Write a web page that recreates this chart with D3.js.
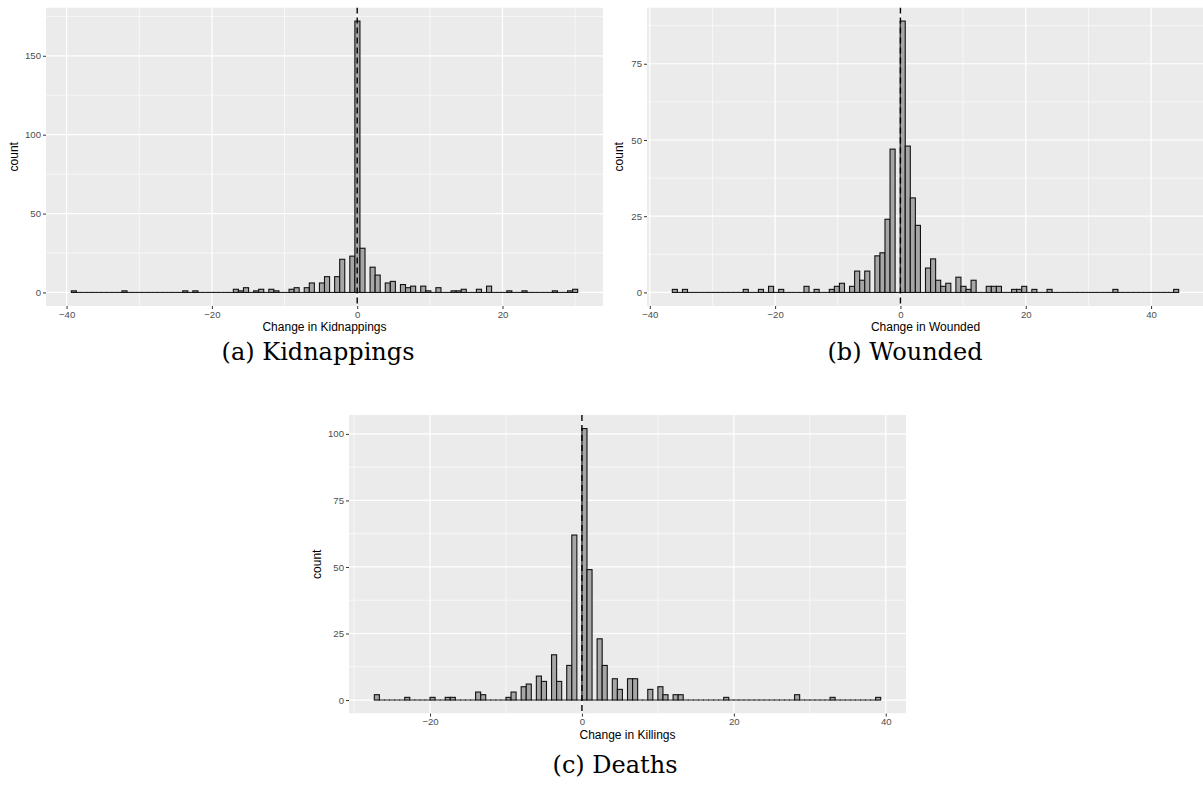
<!DOCTYPE html>
<html>
<head>
<meta charset="utf-8">
<script src="https://cdn.jsdelivr.net/npm/d3@7"></script>
<style>
  body { margin: 0; background: #fff; }
  .tick text { font-family: "Liberation Sans", Arial, sans-serif; font-size: 9.6px; fill: #4d4d4d; }
  .tick line { stroke: #333; }
  .axis-title { font-family: "Liberation Sans", Arial, sans-serif; font-size: 12px; fill: #000; }
  .caption { font-family: "DejaVu Serif", serif; font-size: 24px; fill: #000; }
</style>
</head>
<body>
<svg id="chart"></svg>
<script>
const kidValues = [-39, -32, -24, -22, -17, -16, -15, -14, -13, -12, -11, -9, -8, -7, -6, -5, -4, -3, -2, -1, 0,
    1, 2, 3, 4, 5, 6, 7, 8, 9, 10, 11, 13, 14, 15, 17, 18, 21, 23, 27, 29, 30];
const kidCounts = [1, 1, 1, 1, 2, 1, 3, 1, 2, 2, 1, 2, 3, 3, 6, 6, 10, 10, 21, 23, 172,
    28, 16, 11, 6, 7, 5, 3, 4, 4, 1, 3, 1, 1, 2, 2, 4, 1, 1, 1, 1, 2];

const woundValues = [-36, -34, -25, -22, -21, -19, -15, -13, -11, -10, -9, -8, -7, -6, -5, -4, -3, -2, -1, 0,
    1, 2, 3, 4, 5, 6, 7, 8, 9, 10, 11, 12, 14, 15, 16, 18, 19, 20, 21, 24, 34, 44];
const woundCounts = [1, 1, 1, 1, 2, 1, 2, 1, 1, 2, 3, 2, 7, 4, 7, 12, 13, 24, 47, 89,
    48, 31, 22, 8, 11, 4, 2, 3, 5, 2, 1, 4, 2, 2, 2, 1, 1, 2, 1, 1, 1, 1];

const killValues = [-27, -23, -20, -18, -17, -14, -13, -10, -9, -8, -7, -6, -5, -4, -3, -2, -1, 0,
    1, 2, 3, 4, 5, 6, 7, 9, 10, 11, 12, 13, 19, 28, 33, 39];
const killCounts = [2, 1, 1, 1, 1, 3, 2, 1, 3, 5, 6, 9, 7, 17, 7, 13, 62, 102,
    49, 23, 13, 8, 4, 8, 8, 4, 5, 2, 2, 2, 1, 2, 1, 1];

const kidXTicks = [-40, -20, 0, 20];
const kidYTicks = [0, 50, 100, 150];
const woundXTicks = [-40, -20, 0, 20, 40];
const woundYTicks = [0, 25, 50, 75];
const killXTicks = [-20, 0, 20, 40];
const killYTicks = [0, 25, 50, 75, 100];

const W = 1203, H = 800;
const svg = d3.select('#chart')
    .attr('width', W)
    .attr('height', H);

// midpoints between major breaks, like ggplot's minor grid
function minorBreaks(ticks, domain) {
    const step = ticks[1] - ticks[0];
    const out = [];
    for (let t = ticks[0] - step / 2; t <= domain[1]; t += step) {
        if (t >= domain[0]) out.push(t);
    }
    return out;
}

function drawHistogram(opts) {
    const values = opts.values, counts = opts.counts;
    const lo = d3.min(values), hi = d3.max(values);
    const nBins = 100;
    const bw = (hi - lo) / (nBins - 1);

    const bins = d3.range(nBins).map(i => ({ center: lo + i * bw, count: 0 }));
    values.forEach((v, i) => {
        bins[Math.round((v - lo) / bw)].count += counts[i];
    });

    const span = hi - lo + bw;
    const xDomain = [lo - bw / 2 - span * 0.05, hi + bw / 2 + span * 0.05];
    const yMax = d3.max(counts);
    const yDomain = [-yMax * 0.05, yMax * 1.05];

    const x = d3.scaleLinear().domain(xDomain).range([opts.left, opts.right]);
    const y = d3.scaleLinear().domain(yDomain).range([opts.bottom, opts.top]);

    const clipId = 'clip-' + opts.id;
    svg.append('clipPath')
        .attr('id', clipId)
        .append('rect')
        .attr('x', opts.left)
        .attr('y', opts.top)
        .attr('width', opts.right - opts.left)
        .attr('height', opts.bottom - opts.top);

    const g = svg.append('g').attr('clip-path', 'url(#' + clipId + ')');

    g.append('rect')
        .attr('x', opts.left)
        .attr('y', opts.top)
        .attr('width', opts.right - opts.left)
        .attr('height', opts.bottom - opts.top)
        .attr('fill', '#ebebeb');

    // minor grid
    g.selectAll('.xminor')
        .data(minorBreaks(opts.xTicks, xDomain))
        .join('line')
        .attr('x1', d => x(d)).attr('x2', d => x(d))
        .attr('y1', opts.top).attr('y2', opts.bottom)
        .attr('stroke', '#fff').attr('stroke-width', 0.6);
    g.selectAll('.yminor')
        .data(minorBreaks(opts.yTicks, yDomain))
        .join('line')
        .attr('y1', d => y(d)).attr('y2', d => y(d))
        .attr('x1', opts.left).attr('x2', opts.right)
        .attr('stroke', '#fff').attr('stroke-width', 0.6);

    // major grid
    g.selectAll('.xmajor')
        .data(opts.xTicks)
        .join('line')
        .attr('x1', d => x(d)).attr('x2', d => x(d))
        .attr('y1', opts.top).attr('y2', opts.bottom)
        .attr('stroke', '#fff').attr('stroke-width', 1.2);
    g.selectAll('.ymajor')
        .data(opts.yTicks)
        .join('line')
        .attr('y1', d => y(d)).attr('y2', d => y(d))
        .attr('x1', opts.left).attr('x2', opts.right)
        .attr('stroke', '#fff').attr('stroke-width', 1.2);

    // empty bins collapse to a line on the baseline
    g.selectAll('.empty')
        .data(bins.filter(d => d.count === 0))
        .join('line')
        .attr('class', 'empty')
        .attr('x1', d => x(d.center - bw / 2))
        .attr('x2', d => x(d.center + bw / 2))
        .attr('y1', y(0)).attr('y2', y(0))
        .attr('stroke', '#222')
        .attr('stroke-width', 1.1)
        .attr('stroke-linecap', 'square');

    g.selectAll('.bar')
        .data(bins.filter(d => d.count > 0))
        .join('rect')
        .attr('class', 'bar')
        .attr('x', d => x(d.center - bw / 2))
        .attr('width', d => x(d.center + bw / 2) - x(d.center - bw / 2))
        .attr('y', d => y(d.count))
        .attr('height', d => y(0) - y(d.count))
        .attr('fill', '#a6a6a6')
        .attr('stroke', '#111')
        .attr('stroke-width', 1.1);

    g.append('line')
        .attr('x1', x(0)).attr('x2', x(0))
        .attr('y1', opts.top).attr('y2', opts.bottom)
        .attr('stroke', '#000')
        .attr('stroke-width', 1.4)
        .attr('stroke-dasharray', '6,4');

    const xAxis = d3.axisBottom(x).tickValues(opts.xTicks).tickSize(3).tickPadding(2);
    const yAxis = d3.axisLeft(y).tickValues(opts.yTicks).tickSize(3).tickPadding(2);

    svg.append('g')
        .attr('transform', 'translate(0,' + opts.bottom + ')')
        .call(xAxis)
        .call(s => s.select('.domain').remove());
    svg.append('g')
        .attr('transform', 'translate(' + opts.left + ',0)')
        .call(yAxis)
        .call(s => s.select('.domain').remove());

    svg.append('text')
        .attr('class', 'axis-title')
        .attr('x', (opts.left + opts.right) / 2)
        .attr('y', opts.bottom + 25)
        .attr('text-anchor', 'middle')
        .text(opts.xTitle);

    svg.append('text')
        .attr('class', 'axis-title')
        .attr('transform', 'translate(' + opts.yTitleX + ',' + (opts.top + opts.bottom) / 2 + ') rotate(-90)')
        .attr('text-anchor', 'middle')
        .attr('dy', '0.35em')
        .text('count');

    svg.append('text')
        .attr('class', 'caption')
        .attr('x', opts.capX)
        .attr('y', opts.capY)
        .attr('text-anchor', 'middle')
        .text(opts.caption);
}

drawHistogram({
    id: 'a', values: kidValues, counts: kidCounts,
    xTicks: kidXTicks, yTicks: kidYTicks,
    left: 46, right: 603, top: 7.5, bottom: 306,
    xTitle: 'Change in Kidnappings', yTitleX: 14,
    caption: '(a) Kidnappings', capX: 318, capY: 360
});

drawHistogram({
    id: 'b', values: woundValues, counts: woundCounts,
    xTicks: woundXTicks, yTicks: woundYTicks,
    left: 647, right: 1204, top: 7.5, bottom: 306,
    xTitle: 'Change in Wounded', yTitleX: 619,
    caption: '(b) Wounded', capX: 905, capY: 360
});

drawHistogram({
    id: 'c', values: killValues, counts: killCounts,
    xTicks: killXTicks, yTicks: killYTicks,
    left: 349, right: 906, top: 415, bottom: 713.6,
    xTitle: 'Change in Killings', yTitleX: 317,
    caption: '(c) Deaths', capX: 615, capY: 773
});
</script>
</body>
</html>
